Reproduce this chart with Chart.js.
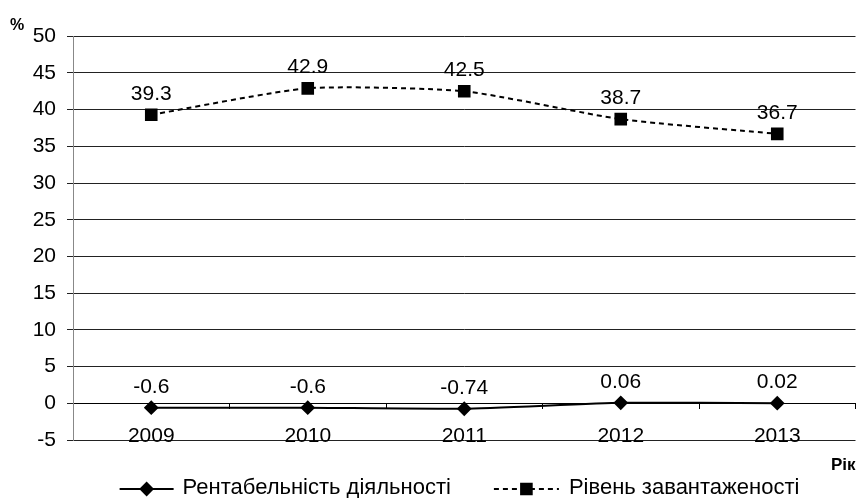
<!DOCTYPE html>
<html>
<head>
<meta charset="utf-8">
<script src="https://cdn.jsdelivr.net/npm/chart.js@4.4.0/dist/chart.umd.min.js"></script>
<style>
html,body{margin:0;padding:0;background:#fff;}
#wrap{width:865px;height:498px;}
</style>
</head>
<body>
<div id="wrap"><canvas id="c" width="865" height="498"></canvas></div>
<script>
const categories = ['2009', '2010', '2011', '2012', '2013'];
const rentability = [-0.6, -0.6, -0.74, 0.06, 0.02];
const workload = [39.3, 42.9, 42.5, 38.7, 36.7];
const rentabilityLabels = ['-0.6', '-0.6', '-0.74', '0.06', '0.02'];
const workloadLabels = ['39.3', '42.9', '42.5', '38.7', '36.7'];
const seriesNames = ['Рентабельність діяльності', 'Рівень завантаженості'];
const yMin = -5, yMax = 50, yStep = 5;
const xTitle = 'Рік';
const yUnit = '%';

const FONT = '"Liberation Sans", Arial, sans-serif';

const valueLabelPlugin = {
  id: 'valueLabels',
  afterDatasetsDraw(chart) {
    const ctx = chart.ctx;
    ctx.save();
    ctx.font = '21px ' + FONT;
    ctx.fillStyle = '#000';
    ctx.textAlign = 'center';
    ctx.textBaseline = 'alphabetic';
    chart.data.datasets.forEach((ds, di) => {
      const meta = chart.getDatasetMeta(di);
      meta.data.forEach((el, i) => {
        ctx.fillText(ds.valueLabels[i], el.x, el.y - 15);
      });
    });
    ctx.restore();
  }
};

const customLegend = {
  id: 'customLegend',
  afterDraw(chart) {
    const ctx = chart.ctx;
    ctx.save();
    ctx.font = '22px ' + FONT;
    ctx.fillStyle = '#000';
    ctx.textBaseline = 'middle';
    ctx.textAlign = 'left';
    const y = chart.height - 9;
    const sampleW = [54, 65];
    const gap = [9, 10], spacing = 43;
    const tw = seriesNames.map(n => ctx.measureText(n).width);
    const total = sampleW[0] + gap[0] + tw[0] + spacing + sampleW[1] + gap[1] + tw[1];
    let x = chart.width / 2 + 27 - total / 2;
    chart.data.datasets.forEach((ds, di) => {
      const w = sampleW[di];
      ctx.save();
      ctx.strokeStyle = ds.borderColor;
      ctx.lineWidth = ds.borderWidth;
      ctx.setLineDash(ds.borderDash || []);
      ctx.beginPath();
      ctx.moveTo(x, y);
      ctx.lineTo(x + w, y);
      ctx.stroke();
      ctx.setLineDash([]);
      Chart.helpers.drawPoint(ctx, {
        pointStyle: ds.pointStyle,
        radius: ds.pointRadius,
        rotation: 0,
        borderWidth: 1
      }, x + w / 2, y);
      ctx.fillStyle = '#000';
      ctx.strokeStyle = '#000';
      ctx.fill();
      ctx.restore();
      ctx.fillStyle = '#000';
      ctx.fillText(seriesNames[di], x + w + gap[di], y - 1);
      x += w + gap[di] + tw[di] + spacing;
    });
    ctx.restore();
  }
};

new Chart(document.getElementById('c'), {
  type: 'line',
  data: {
    labels: categories,
    datasets: [
      {
        label: seriesNames[0],
        data: rentability,
        valueLabels: rentabilityLabels,
        borderColor: '#000',
        backgroundColor: '#000',
        borderWidth: 2,
        pointStyle: 'rectRot',
        pointRadius: 6,
        pointBackgroundColor: '#000',
        pointBorderColor: '#000',
        tension: 0.15,
        xAxisID: 'x',
        yAxisID: 'y'
      },
      {
        label: seriesNames[1],
        data: workload,
        valueLabels: workloadLabels,
        borderColor: '#000',
        backgroundColor: '#000',
        borderWidth: 2,
        borderDash: [5, 4],
        pointStyle: 'rect',
        pointRadius: 7.5,
        pointBackgroundColor: '#000',
        pointBorderColor: '#000',
        tension: 0.2,
        xAxisID: 'x',
        yAxisID: 'y'
      }
    ]
  },
  options: {
    responsive: false,
    animation: false,
    devicePixelRatio: 1,
    layout: { padding: { left: 10, right: 8, top: 0, bottom: 22 } },
    plugins: {
      legend: { display: false },
      tooltip: { enabled: false },
      title: {
        display: true,
        text: yUnit,
        align: 'start',
        color: '#000',
        font: { family: FONT, size: 16, weight: 'bold' },
        padding: { top: 16, bottom: 1 }
      }
    },
    scales: {
      x: {
        type: 'category',
        position: 'bottom',
        offset: true,
        grid: { display: false, drawTicks: false },
        border: { display: false },
        ticks: { display: false },
        title: {
          display: true,
          text: xTitle,
          align: 'end',
          color: '#000',
          font: { family: FONT, size: 17, weight: 'bold' },
          padding: { top: 0, bottom: 0 }
        },
        afterFit(scale) { scale.height = 36; }
      },
      xl: {
        type: 'category',
        labels: categories,
        position: { y: yMin },
        offset: true,
        grid: { display: false, drawTicks: false },
        border: { display: false },
        ticks: {
          color: '#000',
          font: { family: FONT, size: 21 },
          padding: -16,
          maxRotation: 0
        }
      },
      x0: {
        type: 'category',
        labels: categories,
        position: { y: 0 },
        offset: true,
        grid: {
          offset: true,
          drawOnChartArea: false,
          drawTicks: true,
          tickLength: 5,
          color: '#000'
        },
        border: { display: true, color: '#000', width: 1 },
        ticks: { display: false }
      },
      y: {
        min: yMin,
        max: yMax,
        ticks: {
          stepSize: yStep,
          color: '#000',
          font: { family: FONT, size: 21 },
          padding: 11
        },
        grid: {
          color: '#222',
          lineWidth: 1,
          tickLength: 6
        },
        border: { display: true, color: '#888', width: 1 },
        afterFit(scale) { scale.width = 63; }
      }
    }
  },
  plugins: [valueLabelPlugin, customLegend]
});
</script>
</body>
</html>
